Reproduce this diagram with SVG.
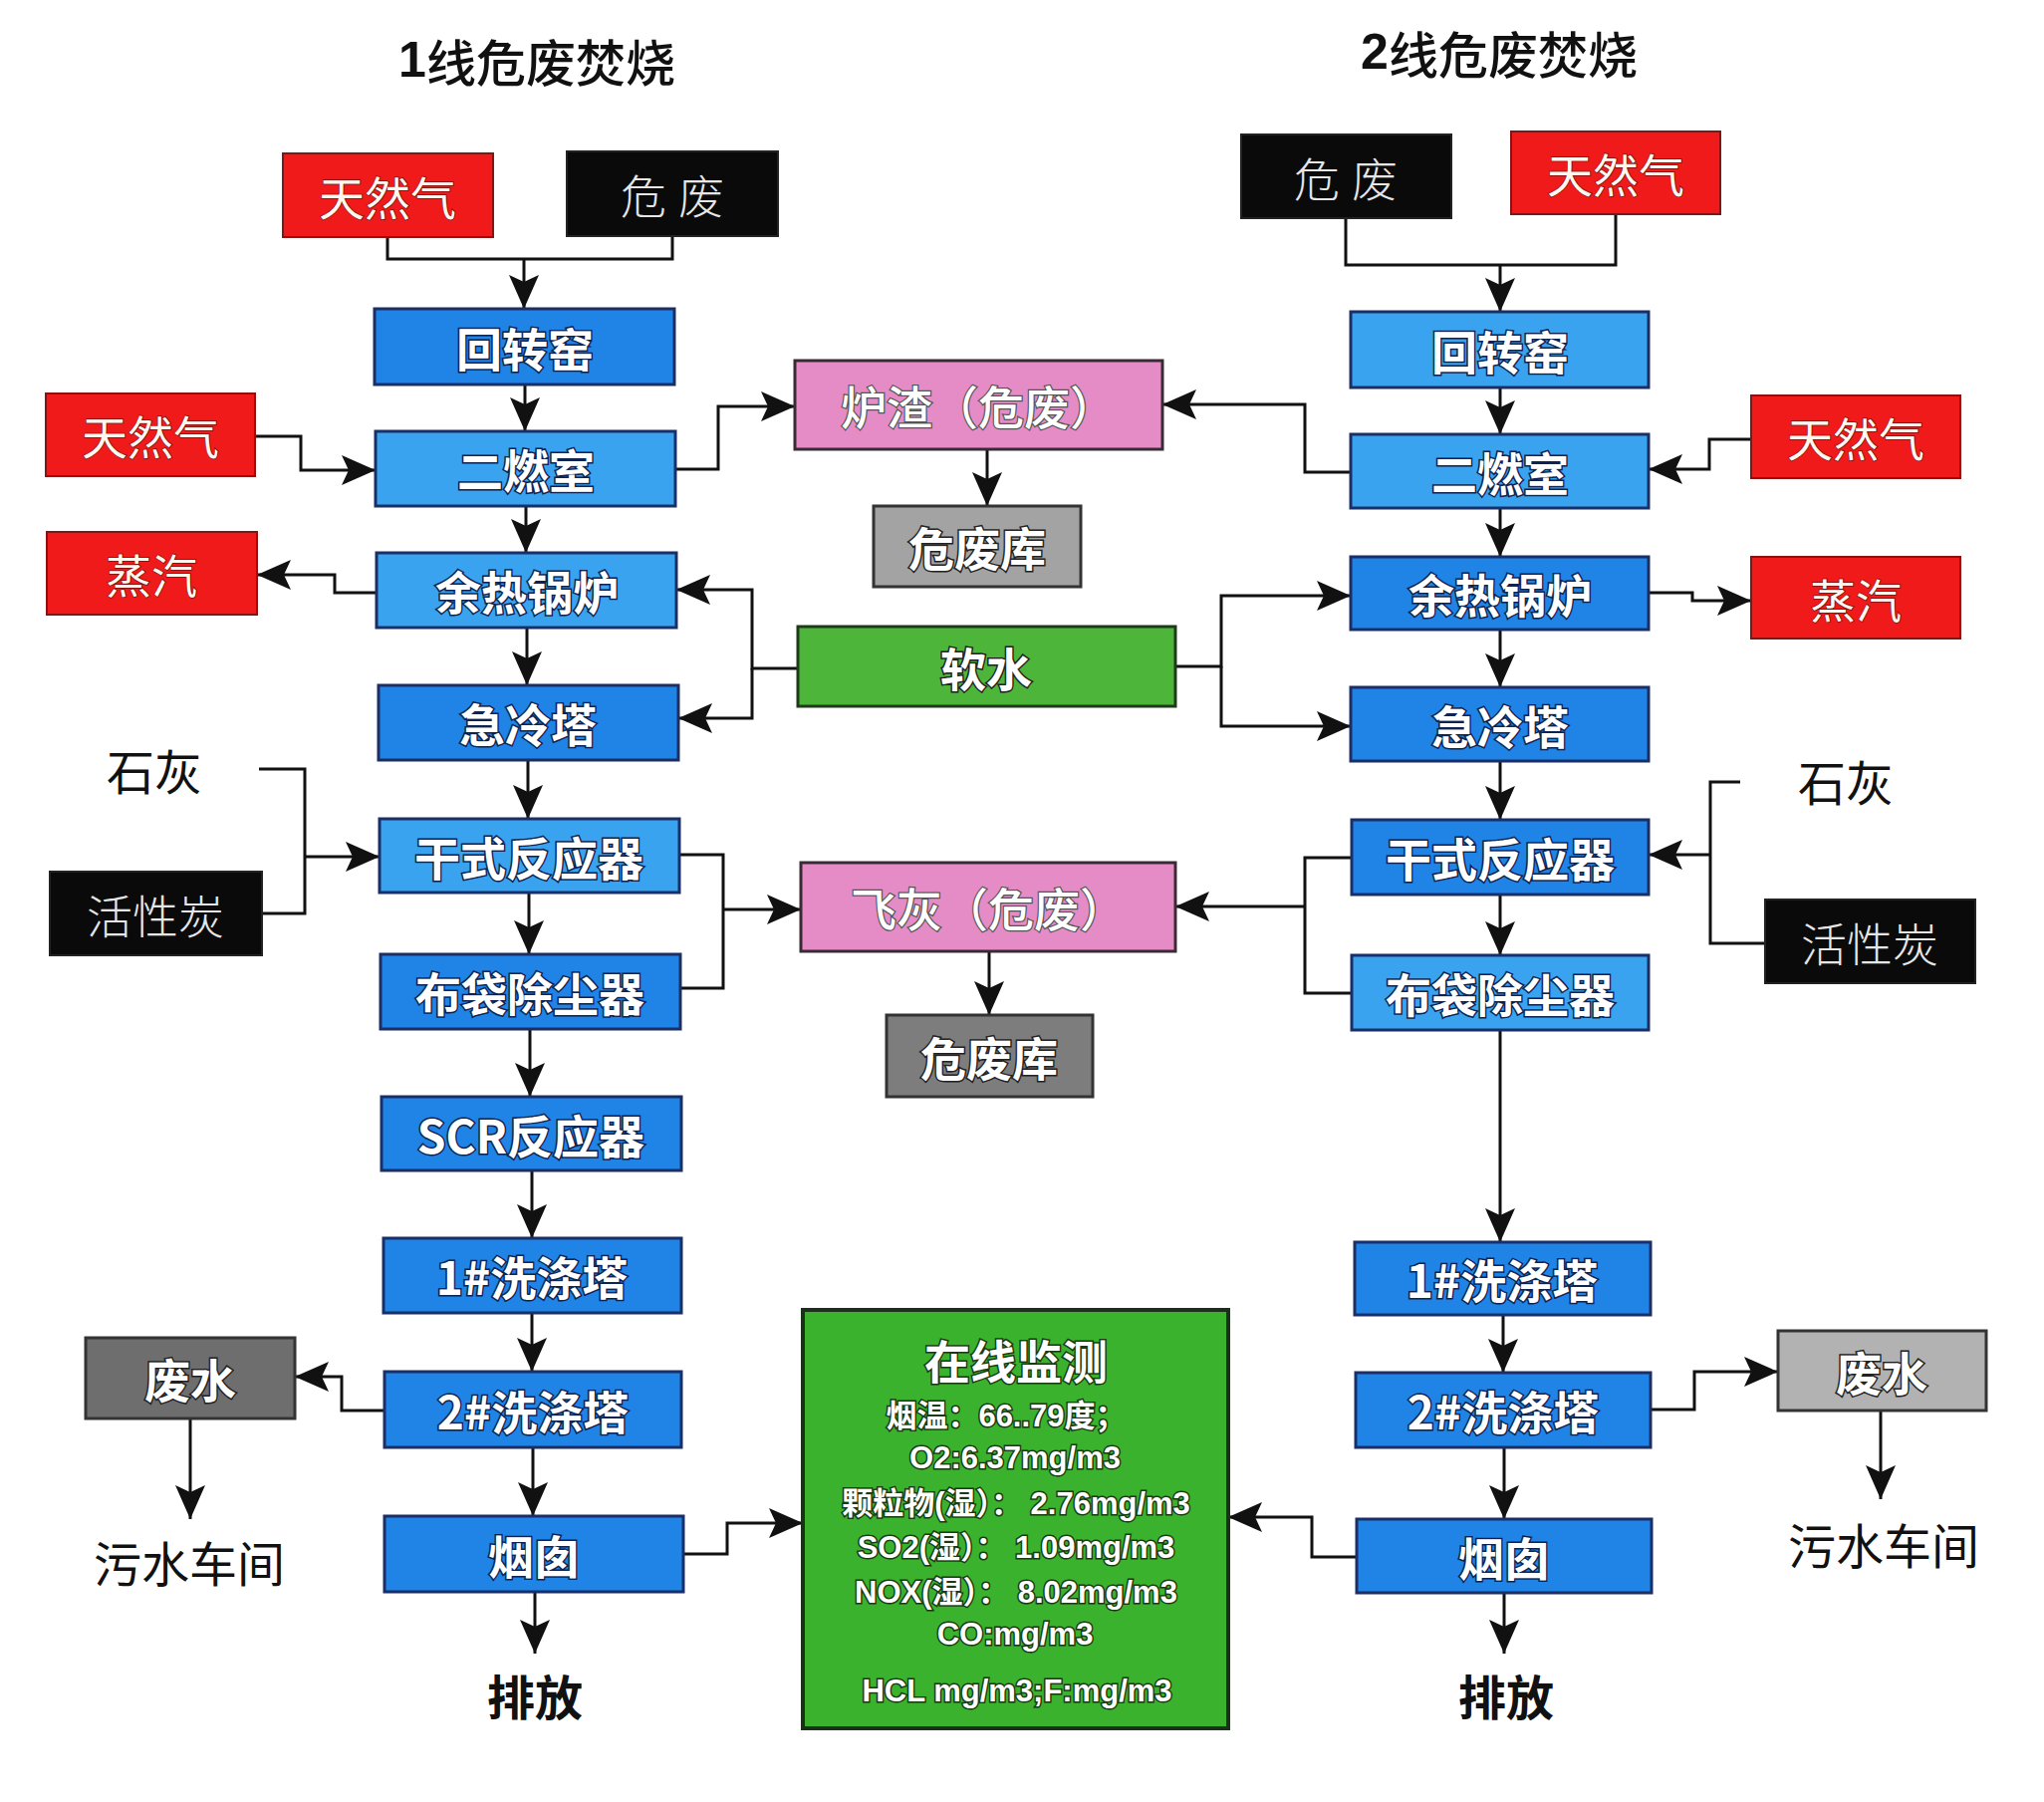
<svg xmlns="http://www.w3.org/2000/svg" width="2052" height="1809" viewBox="0 0 2052 1809">
<defs>
<marker id="ah" markerUnits="userSpaceOnUse" markerWidth="36" markerHeight="32" refX="34" refY="16" orient="auto">
<path d="M0,1 L34,16 L0,31 L7,16 z" fill="#111"/>
</marker>
<style>
.bx{stroke:#1a2f66;stroke-width:3}
.b1{fill:#1f84e6}
.b2{fill:#3aa3ef}
.red{fill:#f01a1a;stroke:#8a1212;stroke-width:2}
.blk{fill:#0a0a0a;stroke:#222;stroke-width:2}
.pink{fill:#e58bc6;stroke:#3a2a35;stroke-width:3}
.gry1{fill:#a3a3a3;stroke:#333;stroke-width:3}
.gry2{fill:#7d7d7d;stroke:#333;stroke-width:3}
.grn{fill:#4db63a;stroke:#1f3a1a;stroke-width:3}
.mon{fill:#3bb22e;stroke:#1c2f1a;stroke-width:4}
text{font-family:"Noto Sans CJK SC","Noto Sans",sans-serif;text-anchor:middle;dominant-baseline:central}
.tb{fill:#fff;stroke:#0e2350;stroke-width:3;paint-order:stroke;font-weight:700;font-size:46px}
.tr{fill:#fff6ee;stroke:#7a1010;stroke-width:1.5;paint-order:stroke;font-weight:400;font-size:46px}
.tk{fill:#e6e6e6;font-weight:300;font-size:46px}
.tp{fill:#fff;stroke:#555;stroke-width:2.5;paint-order:stroke;font-weight:500;font-size:46px}
.tg{fill:#fff;stroke:#222;stroke-width:3;paint-order:stroke;font-weight:700;font-size:46px}
.tm{fill:#fff;stroke:#1a3a12;stroke-width:3;paint-order:stroke;font-weight:700;font-size:31px;font-family:"Liberation Sans","Noto Sans CJK SC",sans-serif}
.to{fill:#111;font-weight:400;font-size:48px}
.tt{fill:#111;font-weight:500;font-size:50px}
.c{fill:none;stroke:#111;stroke-width:3}
</style>
</defs>
<rect width="2052" height="1809" fill="#fff"/>

<text class="tt" x="539" y="60"><tspan font-weight="900" font-family="Liberation Sans, sans-serif">1</tspan>线危废焚烧</text>
<text class="tt" x="1505" y="52"><tspan font-weight="900" font-family="Liberation Sans, sans-serif">2</tspan>线危废焚烧</text>

<g id="connectors">
<polyline class="c" points="389,238 389,260 675,260 675,237"/>
<line class="c" x1="526" y1="260" x2="526" y2="310" marker-end="url(#ah)"/>
<line class="c" x1="527" y1="386" x2="527" y2="433" marker-end="url(#ah)"/>
<polyline class="c" points="256,438 302,438 302,472 377,472" marker-end="url(#ah)"/>
<polyline class="c" points="678,471 721,471 721,408 798,408" marker-end="url(#ah)"/>
<line class="c" x1="528" y1="508" x2="528" y2="555" marker-end="url(#ah)"/>
<polyline class="c" points="378,595 336,595 336,577 258,577" marker-end="url(#ah)"/>
<polyline class="c" points="801,671 755,671 755,592 679,592" marker-end="url(#ah)"/>
<polyline class="c" points="755,671 755,721 681,721" marker-end="url(#ah)"/>
<line class="c" x1="529" y1="630" x2="529" y2="688" marker-end="url(#ah)"/>
<line class="c" x1="530" y1="763" x2="530" y2="822" marker-end="url(#ah)"/>
<polyline class="c" points="260,772 306,772 306,917 263,917"/>
<line class="c" x1="306" y1="860" x2="381" y2="860" marker-end="url(#ah)"/>
<line class="c" x1="531" y1="896" x2="531" y2="958" marker-end="url(#ah)"/>
<polyline class="c" points="682,858 726,858 726,992 683,992"/>
<line class="c" x1="726" y1="913" x2="804" y2="913" marker-end="url(#ah)"/>
<line class="c" x1="532" y1="1033" x2="532" y2="1101" marker-end="url(#ah)"/>
<line class="c" x1="534" y1="1175" x2="534" y2="1243" marker-end="url(#ah)"/>
<line class="c" x1="534" y1="1318" x2="534" y2="1377" marker-end="url(#ah)"/>
<polyline class="c" points="386,1416 343,1416 343,1382 296,1382" marker-end="url(#ah)"/>
<line class="c" x1="191" y1="1424" x2="191" y2="1525" marker-end="url(#ah)"/>
<line class="c" x1="535" y1="1453" x2="535" y2="1522" marker-end="url(#ah)"/>
<polyline class="c" points="686,1560 730,1560 730,1529 806,1529" marker-end="url(#ah)"/>
<line class="c" x1="537" y1="1598" x2="537" y2="1660" marker-end="url(#ah)"/>
<line class="c" x1="991" y1="451" x2="991" y2="508" marker-end="url(#ah)"/>
<line class="c" x1="993" y1="955" x2="993" y2="1019" marker-end="url(#ah)"/>
<polyline class="c" points="1351,219 1351,266 1622,266 1622,215"/>
<line class="c" x1="1506" y1="266" x2="1506" y2="313" marker-end="url(#ah)"/>
<line class="c" x1="1506" y1="389" x2="1506" y2="436" marker-end="url(#ah)"/>
<polyline class="c" points="1356,474 1310,474 1310,406 1167,406" marker-end="url(#ah)"/>
<polyline class="c" points="1758,441 1716,441 1716,471 1655,471" marker-end="url(#ah)"/>
<line class="c" x1="1506" y1="510" x2="1506" y2="559" marker-end="url(#ah)"/>
<polyline class="c" points="1180,669 1226,669 1226,598 1356,598" marker-end="url(#ah)"/>
<polyline class="c" points="1226,669 1226,729 1356,729" marker-end="url(#ah)"/>
<polyline class="c" points="1655,595 1699,595 1699,603 1758,603" marker-end="url(#ah)"/>
<line class="c" x1="1506" y1="632" x2="1506" y2="690" marker-end="url(#ah)"/>
<line class="c" x1="1506" y1="764" x2="1506" y2="823" marker-end="url(#ah)"/>
<polyline class="c" points="1747,785 1717,785 1717,947 1772,947"/>
<line class="c" x1="1717" y1="858" x2="1655" y2="858" marker-end="url(#ah)"/>
<polyline class="c" points="1357,861 1310,861 1310,997 1357,997"/>
<line class="c" x1="1310" y1="910" x2="1180" y2="910" marker-end="url(#ah)"/>
<line class="c" x1="1506" y1="898" x2="1506" y2="959" marker-end="url(#ah)"/>
<line class="c" x1="1506" y1="1034" x2="1506" y2="1247" marker-end="url(#ah)"/>
<line class="c" x1="1509" y1="1320" x2="1509" y2="1378" marker-end="url(#ah)"/>
<polyline class="c" points="1657,1415 1701,1415 1701,1377 1785,1377" marker-end="url(#ah)"/>
<line class="c" x1="1888" y1="1416" x2="1888" y2="1505" marker-end="url(#ah)"/>
<line class="c" x1="1510" y1="1453" x2="1510" y2="1525" marker-end="url(#ah)"/>
<polyline class="c" points="1362,1563 1317,1563 1317,1523 1233,1523" marker-end="url(#ah)"/>
<line class="c" x1="1510" y1="1599" x2="1510" y2="1660" marker-end="url(#ah)"/>
</g>

<g id="L_gas1"><rect class="red" x="284" y="154" width="211" height="84"/><text class="tr" x="389" y="196">天然气</text></g>
<g id="L_hw"><rect class="blk" x="569" y="152" width="212" height="85"/><text class="tk" x="681" y="194" letter-spacing="12">危废</text></g>
<g id="L_rotary"><rect class="bx b1" x="376" y="310" width="301" height="76"/><text class="tb" x="527" y="348">回转窑</text></g>
<g id="L_gas2"><rect class="red" x="46" y="395" width="210" height="83"/><text class="tr" x="151" y="436">天然气</text></g>
<g id="L_sec"><rect class="bx b2" x="377" y="433" width="301" height="75"/><text class="tb" x="528" y="470">二燃室</text></g>
<g id="L_steam"><rect class="red" x="47" y="534" width="211" height="83"/><text class="tr" x="152" y="575">蒸汽</text></g>
<g id="L_boiler"><rect class="bx b2" x="378" y="555" width="301" height="75"/><text class="tb" x="529" y="592">余热锅炉</text></g>
<g id="L_quench"><rect class="bx b1" x="380" y="688" width="301" height="75"/><text class="tb" x="530" y="725">急冷塔</text></g>
<g id="L_lime"><text class="to" x="155" y="772">石灰</text></g>
<g id="L_dry"><rect class="bx b2" x="381" y="822" width="301" height="74"/><text class="tb" x="531" y="859">干式反应器</text></g>
<g id="L_ac"><rect class="blk" x="50" y="875" width="213" height="84"/><text class="tk" x="156" y="917" fill="#cfcfcf">活性炭</text></g>
<g id="L_bag"><rect class="bx b1" x="382" y="958" width="301" height="75"/><text class="tb" x="532" y="995">布袋除尘器</text></g>
<g id="L_scr"><rect class="bx b1" x="383" y="1101" width="301" height="74"/><text class="tb" x="533" y="1138">SCR反应器</text></g>
<g id="L_w1"><rect class="bx b1" x="385" y="1243" width="299" height="75"/><text class="tb" x="534" y="1280">1#洗涤塔</text></g>
<g id="L_ww"><rect class="gry2" x="86" y="1343" width="210" height="81" style="fill:#6e6e6e"/><text class="tg" x="191" y="1383">废水</text></g>
<g id="L_w2"><rect class="bx b1" x="386" y="1377" width="298" height="76"/><text class="tb" x="535" y="1415">2#洗涤塔</text></g>
<g id="L_sewage"><text class="to" x="190" y="1567">污水车间</text></g>
<g id="L_stack"><rect class="bx b1" x="386" y="1522" width="300" height="76"/><text class="tb" x="536" y="1560">烟囱</text></g>
<g id="L_out"><text class="to" x="537" y="1701" style="font-weight:700">排放</text></g>

<g id="slag"><rect class="pink" x="798" y="362" width="369" height="89"/><text class="tp" x="982" y="406">炉渣（危废）</text></g>
<g id="store1"><rect class="gry1" x="877" y="508" width="208" height="81"/><text class="tg" x="981" y="548">危废库</text></g>
<g id="soft"><rect class="grn" x="801" y="629" width="379" height="80"/><text class="tg" x="990" y="669">软水</text></g>
<g id="flyash"><rect class="pink" x="804" y="866" width="376" height="89"/><text class="tp" x="992" y="910">飞灰（危废）</text></g>
<g id="store2"><rect class="gry2" x="890" y="1019" width="207" height="82"/><text class="tg" x="993" y="1060">危废库</text></g>
<g id="monitor"><rect class="mon" x="806" y="1315" width="427" height="420"/>
<text class="tg" x="1020" y="1364" style="font-size:46px;stroke:#1a3a12">在线监测</text>
<text class="tm" x="1010" y="1421">烟温：66..79度；</text>
<text class="tm" x="1019" y="1463">O2:6.37mg/m3</text>
<text class="tm" x="1020" y="1509">颗粒物(湿）： 2.76mg/m3</text>
<text class="tm" x="1020" y="1553">SO2(湿）： 1.09mg/m3</text>
<text class="tm" x="1020" y="1598">NOX(湿）： 8.02mg/m3</text>
<text class="tm" x="1019" y="1640">CO:mg/m3</text>
<text class="tm" x="1021" y="1697">HCL   mg/m3;F:mg/m3</text>
</g>

<g id="R_hw"><rect class="blk" x="1246" y="135" width="211" height="84"/><text class="tk" x="1357" y="177" letter-spacing="12">危废</text></g>
<g id="R_gas1"><rect class="red" x="1517" y="132" width="210" height="83"/><text class="tr" x="1622" y="173">天然气</text></g>
<g id="R_rotary"><rect class="bx b2" x="1356" y="313" width="299" height="76"/><text class="tb" x="1506" y="351">回转窑</text></g>
<g id="R_gas2"><rect class="red" x="1758" y="397" width="210" height="83"/><text class="tr" x="1863" y="438">天然气</text></g>
<g id="R_sec"><rect class="bx b2" x="1356" y="436" width="299" height="74"/><text class="tb" x="1506" y="473">二燃室</text></g>
<g id="R_boiler"><rect class="bx b1" x="1356" y="559" width="299" height="73"/><text class="tb" x="1506" y="595">余热锅炉</text></g>
<g id="R_steam"><rect class="red" x="1758" y="559" width="210" height="82"/><text class="tr" x="1863" y="600">蒸汽</text></g>
<g id="R_quench"><rect class="bx b1" x="1356" y="690" width="299" height="74"/><text class="tb" x="1506" y="727">急冷塔</text></g>
<g id="R_lime"><text class="to" x="1853" y="783">石灰</text></g>
<g id="R_dry"><rect class="bx b1" x="1357" y="823" width="298" height="75"/><text class="tb" x="1506" y="860">干式反应器</text></g>
<g id="R_ac"><rect class="blk" x="1772" y="903" width="211" height="84"/><text class="tk" x="1877" y="945" fill="#cfcfcf">活性炭</text></g>
<g id="R_bag"><rect class="bx b2" x="1357" y="959" width="298" height="75"/><text class="tb" x="1506" y="996">布袋除尘器</text></g>
<g id="R_w1"><rect class="bx b1" x="1360" y="1247" width="297" height="73"/><text class="tb" x="1508" y="1283">1#洗涤塔</text></g>
<g id="R_ww"><rect class="gry1" x="1785" y="1336" width="209" height="80" style="fill:#b2b2b2"/><text class="tg" x="1889" y="1376">废水</text></g>
<g id="R_w2"><rect class="bx b1" x="1361" y="1378" width="296" height="75"/><text class="tb" x="1509" y="1415">2#洗涤塔</text></g>
<g id="R_sewage"><text class="to" x="1891" y="1549">污水车间</text></g>
<g id="R_stack"><rect class="bx b1" x="1362" y="1525" width="296" height="74"/><text class="tb" x="1510" y="1562">烟囱</text></g>
<g id="R_out"><text class="to" x="1512" y="1701" style="font-weight:700">排放</text></g>
</svg>
